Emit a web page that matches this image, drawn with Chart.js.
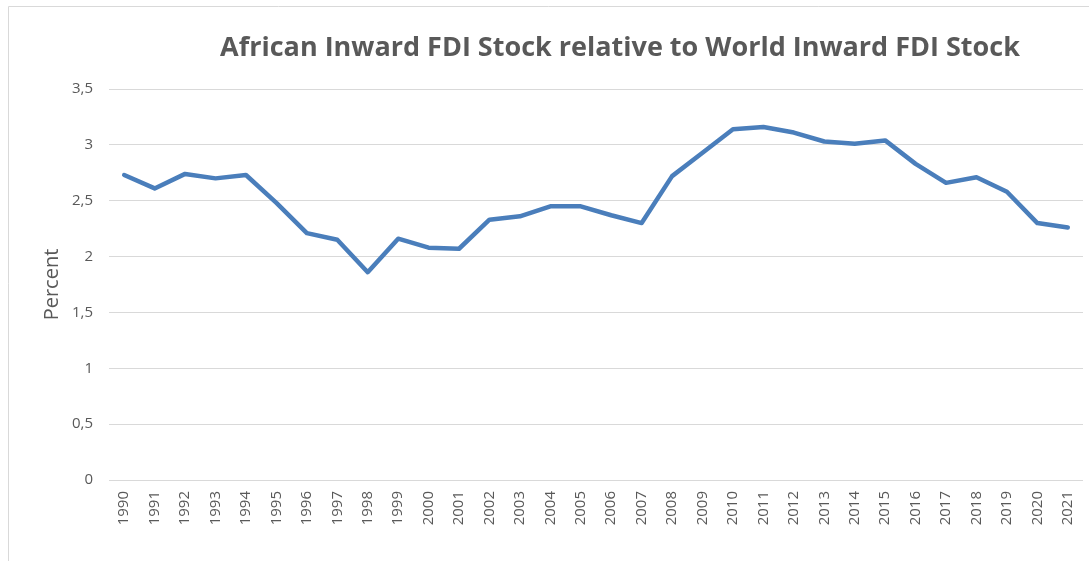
<!DOCTYPE html>
<html>
<head>
<meta charset="utf-8">
<script src="https://cdn.jsdelivr.net/npm/chart.js@4/dist/chart.umd.min.js"></script>
<style>
  html, body { margin: 0; padding: 0; background: #fff; }
  #wrap { width: 1089px; height: 561px; position: relative; }
</style>
</head>
<body>
<div id="wrap"><canvas id="fdiChart"></canvas></div>
<script>
// years on the x axis
const years = ['1990','1991','1992','1993','1994','1995','1996','1997','1998','1999',
  '2000','2001','2002','2003','2004','2005','2006','2007','2008','2009','2010',
  '2011','2012','2013','2014','2015','2016','2017','2018','2019','2020','2021'];

// African inward FDI stock as % of world inward FDI stock
const africaShare = [2.73, 2.61, 2.74, 2.70, 2.73, 2.48, 2.21, 2.15, 1.86, 2.16,
  2.08, 2.07, 2.33, 2.36, 2.45, 2.45, 2.37, 2.30, 2.72, 2.93, 3.14,
  3.16, 3.11, 3.03, 3.01, 3.04, 2.83, 2.66, 2.71, 2.58, 2.30, 2.26];

// y axis labels (comma decimals)
const yTickLabels = ['0', '0,5', '1', '1,5', '2', '2,5', '3', '3,5'];

const chartTitle = 'African Inward FDI Stock relative to World Inward FDI Stock';

const textGrey = '#595959';
const gridGrey = '#d9d9d9';

// thin frame along the top and left edge + the (off-centre) title
const frame = {
  id: 'frame',
  beforeDraw(chart) {
    const c = chart.ctx;
    c.save();
    c.strokeStyle = gridGrey;
    c.lineWidth = 1;
    c.beginPath();
    c.moveTo(8.5, 561);
    c.lineTo(8.5, 6.5);
    c.lineTo(1089, 6.5);
    c.stroke();
    c.fillStyle = textGrey;
    c.font = 'bold 27px "Open Sans"';
    c.textAlign = 'center';
    c.textBaseline = 'middle';
    c.fillText(chartTitle, 620, 48);
    c.restore();
  }
};

new Chart(document.getElementById('fdiChart'), {
  type: 'line',
  data: {
    labels: years,
    datasets: [{
      label: 'Africa',
      data: africaShare,
      borderColor: '#4a7ebb',
      backgroundColor: '#4a7ebb',
      borderWidth: 4.5,
      pointRadius: 0,
      tension: 0,
      borderJoinStyle: 'round',
      borderCapStyle: 'round'
    }]
  },
  options: {
    responsive: true,
    maintainAspectRatio: false,
    animation: false,
    layout: { padding: { left: 0, right: 6, top: 89, bottom: 0 } },
    plugins: {
      legend: { display: false },
      tooltip: { enabled: false },
      title: { display: false }
    },
    scales: {
      x: {
        offset: true,
        grid: { display: false, drawTicks: false },
        border: { display: false },
        ticks: {
          color: textGrey,
          font: { family: 'Open Sans', size: 15 },
          minRotation: 90,
          maxRotation: 90,
          autoSkip: false,
          padding: 11
        },
        afterFit(scale) {
          scale.height = 81;
          scale.paddingLeft = 0;
          scale.paddingRight = 0;
        }
      },
      y: {
        min: 0,
        max: 3.5,
        grid: { color: gridGrey, lineWidth: 1, drawTicks: false },
        border: { display: false },
        ticks: {
          stepSize: 0.5,
          color: textGrey,
          font: { family: 'Open Sans', size: 15 },
          padding: 16,
          callback: (v, i) => yTickLabels[i]
        },
        title: {
          display: true,
          text: 'Percent',
          color: textGrey,
          font: { family: 'Open Sans', size: 20 },
          padding: { top: 40, bottom: 0 }
        },
        afterFit(scale) {
          scale.width = 109;
        }
      }
    }
  },
  plugins: [frame]
});
</script>
</body>
</html>
